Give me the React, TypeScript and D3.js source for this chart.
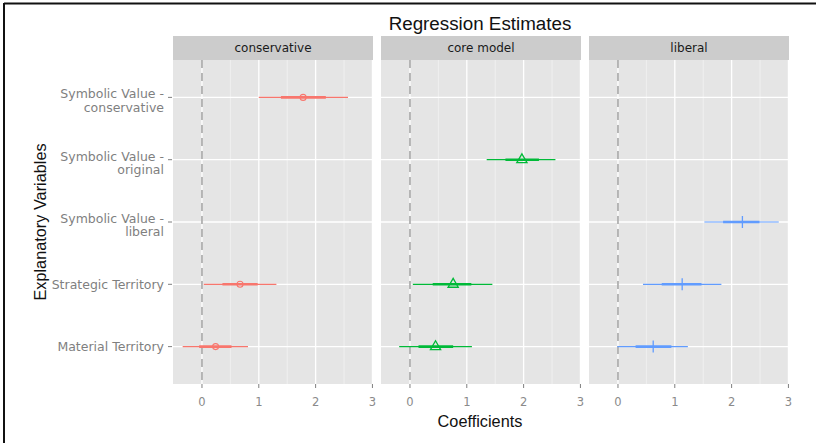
import React from 'react';
import * as d3 from 'd3';

// facet panels
const models = ['conservative', 'core model', 'liberal'];
const colors = ['#F8766D', '#00BA38', '#619CFF'];
const shapes = ['circle', 'triangle', 'plus'];

// variables, top to bottom
const variables = ['symCons', 'symOrig', 'symLib', 'strategic', 'material'];
const varLabels = [
  ['Symbolic Value -', 'conservative'],
  ['Symbolic Value -', 'original'],
  ['Symbolic Value -', 'liberal'],
  ['Strategic Territory'],
  ['Material Territory'],
];

const xTicks = [0, 1, 2, 3];
const xMinor = [-0.5, 0.5, 1.5, 2.5];

// per model: variable, estimate, outer interval, inner interval
const consVars = ['symCons', 'strategic', 'material'];
const consEst = [1.78, 0.67, 0.24];
const consLo = [1.0, 0.03, -0.34];
const consHi = [2.57, 1.31, 0.81];
const consLoIn = [1.39, 0.36, -0.05];
const consHiIn = [2.18, 0.98, 0.52];

const coreVars = ['symOrig', 'strategic', 'material'];
const coreEst = [1.97, 0.76, 0.45];
const coreLo = [1.35, 0.05, -0.19];
const coreHi = [2.56, 1.45, 1.09];
const coreLoIn = [1.68, 0.4, 0.15];
const coreHiIn = [2.27, 1.08, 0.76];

const libVars = ['symLib', 'strategic', 'material'];
const libEst = [2.19, 1.13, 0.62];
const libLo = [1.52, 0.44, -0.01];
const libHi = [2.83, 1.82, 1.23];
const libLoIn = [1.85, 0.77, 0.31];
const libHiIn = [2.49, 1.47, 0.94];

const build = (vars: string[], est: number[], lo: number[], hi: number[], loIn: number[], hiIn: number[]) =>
  vars.map((v, i) => ({ v, est: est[i], lo: lo[i], hi: hi[i], loIn: loIn[i], hiIn: hiIn[i] }));

const panelData = [
  build(consVars, consEst, consLo, consHi, consLoIn, consHiIn),
  build(coreVars, coreEst, coreLo, coreHi, coreLoIn, coreHiIn),
  build(libVars, libEst, libLo, libHi, libLoIn, libHiIn),
];

const W = 816;
const H = 443;
const left = 173;
const right = 789;
const gap = 8;
const stripTop = 36;
const panelTop = 60;
const panelBottom = 384;
const panelW = (right - left - gap * 2) / 3;
const titleFont = '"Liberation Sans", Arial, sans-serif';
const labelFont = '"DejaVu Sans", Verdana, sans-serif';

export default function App() {
  const y = d3.scalePoint<string>().domain(variables).range([panelTop, panelBottom]).padding(0.6);
  const tri = d3.symbol().type(d3.symbolTriangle).size(45)();

  const marker = (shape: string, color: string) => {
    if (shape === 'circle') return <circle r={3} fill="none" stroke={color} strokeWidth={1.1} />;
    if (shape === 'triangle') return <path d={tri || ''} fill="none" stroke={color} strokeWidth={1.3} />;
    return (
      <g stroke={color} strokeWidth={1.3}>
        <line x1={-4} x2={4} y1={0} y2={0} />
        <line x1={0} x2={0} y1={-6} y2={6} />
      </g>
    );
  };

  return (
    <svg width={W} height={H} style={{ position: 'absolute', left: 0, top: 0, background: '#fff' }} fontFamily={titleFont}>
      {/* frame */}
      <line x1={4} x2={4} y1={3} y2={H} stroke="#111" strokeWidth={2} />
      <line x1={4} x2={W} y1={3.5} y2={3.5} stroke="#111" strokeWidth={2} />

      <text x={480} y={30} textAnchor="middle" fontSize={18.8} fill="#111">Regression Estimates</text>

      {models.map((m, pi) => {
        const x0 = left + pi * (panelW + gap);
        const x = d3.scaleLinear().domain([-0.51, 3.01]).range([x0, x0 + panelW]);
        return (
          <g key={m}>
            <rect x={x0} y={stripTop} width={panelW} height={panelTop - stripTop} fill="#cccccc" />
            <text x={x0 + panelW / 2} y={52} textAnchor="middle" fontSize={12} fontFamily={labelFont} fill="#1a1a1a">{m}</text>
            <rect x={x0} y={panelTop} width={panelW} height={panelBottom - panelTop} fill="#e5e5e5" />
            {xMinor.filter(t => x(t) > x0 + 1).map(t => (
              <line key={'mn' + t} x1={x(t)} x2={x(t)} y1={panelTop} y2={panelBottom} stroke="#f2f2f2" strokeWidth={0.8} />
            ))}
            {xTicks.map(t => (
              <line key={'mj' + t} x1={x(t)} x2={x(t)} y1={panelTop} y2={panelBottom} stroke="#fff" strokeWidth={1.3} />
            ))}
            {variables.map(v => (
              <line key={v} x1={x0} x2={x0 + panelW} y1={y(v)} y2={y(v)} stroke="#fff" strokeWidth={1.3} />
            ))}
            <line x1={x(0)} x2={x(0)} y1={panelTop} y2={panelBottom} stroke="#a6a6a6" strokeWidth={1.6} strokeDasharray="8,5" />
            {panelData[pi].map(d => {
              const yy = y(d.v) as number;
              return (
                <g key={d.v}>
                  <line x1={x(d.lo)} x2={x(d.hi)} y1={yy} y2={yy} stroke={colors[pi]} strokeWidth={1.2} />
                  <line x1={x(d.loIn)} x2={x(d.hiIn)} y1={yy} y2={yy} stroke={colors[pi]} strokeWidth={2.6} />
                  <g transform={`translate(${x(d.est)},${yy})`}>{marker(shapes[pi], colors[pi])}</g>
                </g>
              );
            })}
            {xTicks.map(t => (
              <g key={'t' + t}>
                <line x1={x(t)} x2={x(t)} y1={panelBottom} y2={panelBottom + 4} stroke="#7f7f7f" strokeWidth={1} />
                <text x={x(t)} y={406} textAnchor="middle" fontSize={11.5} fontFamily={labelFont} fill="#8a8a8a">{t}</text>
              </g>
            ))}
          </g>
        );
      })}

      {variables.map((v, i) => {
        const yy = y(v) as number;
        const lines = varLabels[i];
        return (
          <g key={v}>
            <line x1={left - 5} x2={left - 1} y1={yy} y2={yy} stroke="#7f7f7f" strokeWidth={1} />
            {lines.map((l, li) => (
              <text key={li} x={left - 9} y={lines.length === 1 ? yy + 4.5 : yy + 1 + li * 13.4} textAnchor="end" fontSize={12.5} fontFamily={labelFont} fill="#7f7f7f">{l}</text>
            ))}
          </g>
        );
      })}

      <text x={480} y={427} textAnchor="middle" fontSize={16.3} fill="#111">Coefficients</text>
      <text transform={`translate(46,222) rotate(-90)`} textAnchor="middle" fontSize={16.3} fill="#111">Explanatory Variables</text>
    </svg>
  );
}
